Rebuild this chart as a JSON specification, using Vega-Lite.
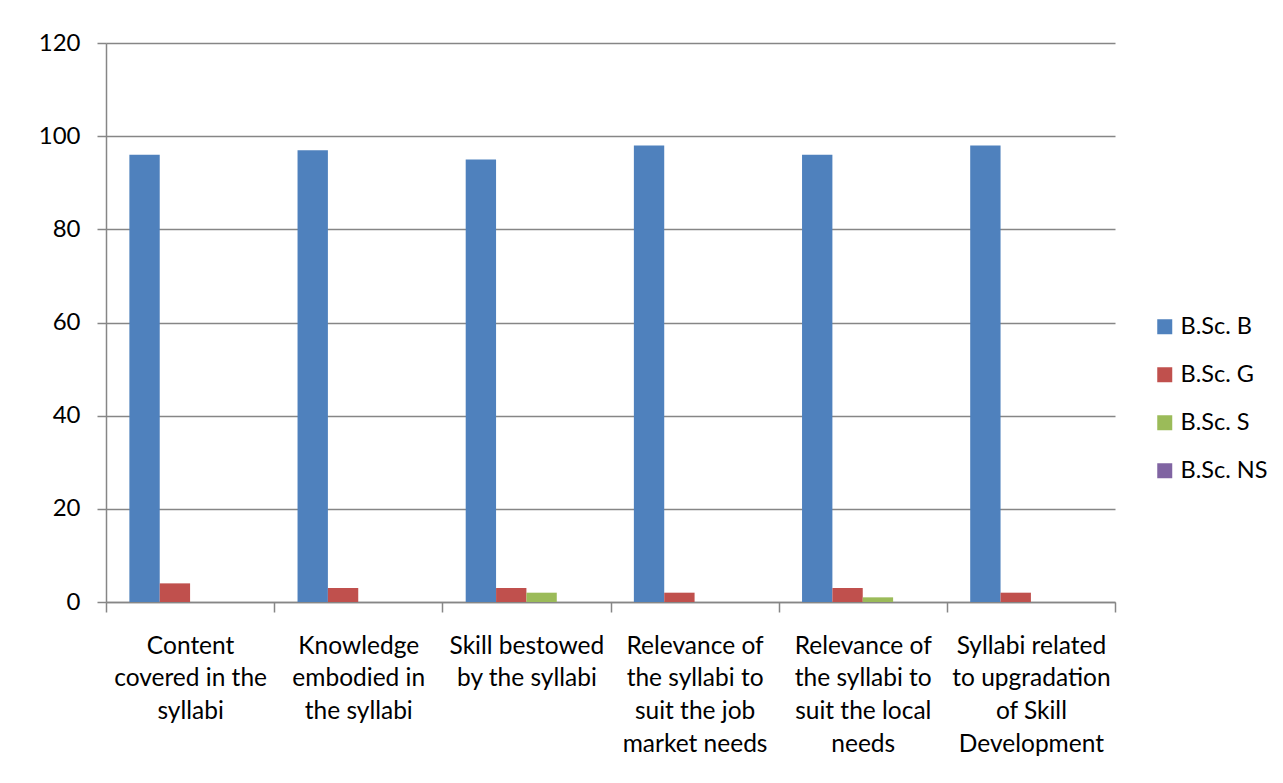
{
  "$schema": "https://vega.github.io/schema/vega-lite/v6.json",
  "width": 1009,
  "height": 559,
  "autosize": {"type": "none"},
  "padding": {"left": 106, "top": 43, "right": 168, "bottom": 181},
  "background": "white",
  "config": {
    "font": "Lato",
    "view": {"stroke": null},
    "axis": {"labelColor": "black", "labelFont": "Lato", "labelFontSize": 24, "domainColor": "#868686", "tickColor": "#868686", "gridColor": "#868686", "domainWidth": 1.5, "tickWidth": 1.5, "gridWidth": 1.5}
  },
  "data": {"values": [
    {"aspect": "Content covered in the syllabi", "series": "B.Sc. B", "value": 96},
    {"aspect": "Content covered in the syllabi", "series": "B.Sc. G", "value": 4},
    {"aspect": "Content covered in the syllabi", "series": "B.Sc. S", "value": 0},
    {"aspect": "Content covered in the syllabi", "series": "B.Sc. NS", "value": 0},
    {"aspect": "Knowledge embodied in the syllabi", "series": "B.Sc. B", "value": 97},
    {"aspect": "Knowledge embodied in the syllabi", "series": "B.Sc. G", "value": 3},
    {"aspect": "Knowledge embodied in the syllabi", "series": "B.Sc. S", "value": 0},
    {"aspect": "Knowledge embodied in the syllabi", "series": "B.Sc. NS", "value": 0},
    {"aspect": "Skill bestowed by the syllabi", "series": "B.Sc. B", "value": 95},
    {"aspect": "Skill bestowed by the syllabi", "series": "B.Sc. G", "value": 3},
    {"aspect": "Skill bestowed by the syllabi", "series": "B.Sc. S", "value": 2},
    {"aspect": "Skill bestowed by the syllabi", "series": "B.Sc. NS", "value": 0},
    {"aspect": "Relevance of the syllabi to suit the job market needs", "series": "B.Sc. B", "value": 98},
    {"aspect": "Relevance of the syllabi to suit the job market needs", "series": "B.Sc. G", "value": 2},
    {"aspect": "Relevance of the syllabi to suit the job market needs", "series": "B.Sc. S", "value": 0},
    {"aspect": "Relevance of the syllabi to suit the job market needs", "series": "B.Sc. NS", "value": 0},
    {"aspect": "Relevance of the syllabi to suit the local needs", "series": "B.Sc. B", "value": 96},
    {"aspect": "Relevance of the syllabi to suit the local needs", "series": "B.Sc. G", "value": 3},
    {"aspect": "Relevance of the syllabi to suit the local needs", "series": "B.Sc. S", "value": 1},
    {"aspect": "Relevance of the syllabi to suit the local needs", "series": "B.Sc. NS", "value": 0},
    {"aspect": "Syllabi related to upgradation of Skill Development", "series": "B.Sc. B", "value": 98},
    {"aspect": "Syllabi related to upgradation of Skill Development", "series": "B.Sc. G", "value": 2},
    {"aspect": "Syllabi related to upgradation of Skill Development", "series": "B.Sc. S", "value": 0},
    {"aspect": "Syllabi related to upgradation of Skill Development", "series": "B.Sc. NS", "value": 0}
  ]},
  "mark": {"type": "bar"},
  "encoding": {
    "x": {
      "field": "aspect", "type": "nominal", "sort": null,
      "scale": {"paddingInner": 0, "paddingOuter": 0},
      "axis": {
        "title": null, "labelAngle": 0, "tickBand": "extent", "tickSize": 10, "grid": false,
        "labelPadding": 22, "labelBaseline": "top", "labelLineHeight": 32.7, "labelLimit": 0, "labelFontSize": 24.5,
        "labelExpr": "{'Content covered in the syllabi': ['Content', 'covered in the', 'syllabi'], 'Knowledge embodied in the syllabi': ['Knowledge', 'embodied in', 'the syllabi'], 'Skill bestowed by the syllabi': ['Skill bestowed', 'by the syllabi'], 'Relevance of the syllabi to suit the job market needs': ['Relevance of', 'the syllabi to', 'suit the job', 'market needs'], 'Relevance of the syllabi to suit the local needs': ['Relevance of', 'the syllabi to', 'suit the local', 'needs'], 'Syllabi related to upgradation of Skill Development': ['Syllabi related', 'to upgradation', 'of Skill', 'Development']}[datum.value]"
      }
    },
    "xOffset": {
      "field": "series", "type": "nominal", "sort": ["B.Sc. B", "B.Sc. G", "B.Sc. S", "B.Sc. NS"],
      "scale": {"paddingInner": 0, "paddingOuter": 0.77}
    },
    "y": {
      "field": "value", "type": "quantitative",
      "scale": {"domain": [0, 120], "nice": false},
      "axis": {"title": null, "values": [0, 20, 40, 60, 80, 100, 120], "tickSize": 9, "labelPadding": 17, "grid": true}
    },
    "color": {
      "field": "series", "type": "nominal", "sort": ["B.Sc. B", "B.Sc. G", "B.Sc. S", "B.Sc. NS"],
      "scale": {"domain": ["B.Sc. B", "B.Sc. G", "B.Sc. S", "B.Sc. NS"], "range": ["#4F81BD", "#C0504D", "#9BBB59", "#8064A2"]},
      "legend": {
        "title": null, "orient": "none", "legendX": 1047, "legendY": 272,
        "symbolType": "square", "symbolSize": 225, "symbolStrokeWidth": 0,
        "labelFontSize": 23.5, "labelFont": "Lato", "labelColor": "black", "labelOffset": 4, "rowPadding": 23
      }
    }
  }
}
